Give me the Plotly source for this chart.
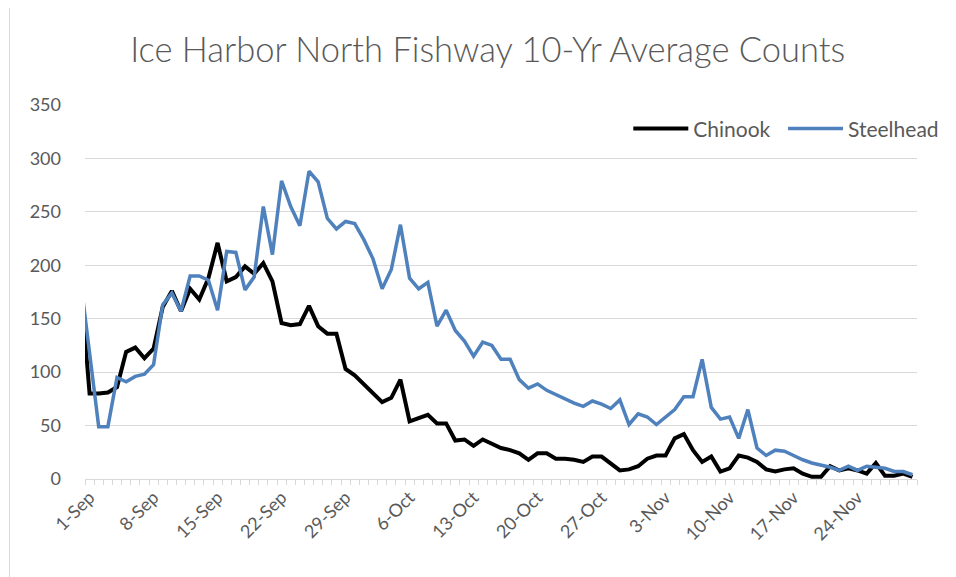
import plotly.graph_objects as go
import pandas as pd

# Daily categories (31-Aug point lies just outside the visible plot edge)
dates = pd.date_range("2021-08-31", "2021-11-30", freq="D")

chinook = [184, 80, 80, 81, 86, 119, 123, 113, 122, 161,
           176, 157, 178, 168, 188, 221, 185, 189, 199, 192,
           202, 185, 146, 144, 145, 162, 143, 136, 136, 103,
           97, 89, 80, 72, 76, 93, 54, 57, 60, 52,
           52, 36, 37, 31, 37, 33, 29, 27, 24, 18,
           24, 24, 19, 19, 18, 16, 21, 21, 15, 8,
           9, 12, 19, 22, 22, 38, 42, 27, 16, 21,
           7, 10, 22, 20, 16, 9, 7, 9, 10, 5,
           2, 2, 12, 8, 10, 8, 5, 15, 3, 3,
           5, 2]

steelhead = [187, 115, 49, 49, 95, 91, 96, 98, 107, 163,
             174, 157, 190, 190, 186, 158, 213, 212, 177, 189,
             255, 210, 279, 255, 237, 288, 278, 244, 234, 241,
             239, 224, 206, 178, 196, 238, 188, 178, 184, 143,
             158, 139, 129, 115, 128, 125, 112, 112, 93, 85,
             89, 83, 79, 75, 71, 68, 73, 70, 66, 74,
             51, 61, 58, 51, 58, 65, 77, 77, 112, 67,
             56, 58, 38, 65, 29, 22, 27, 26, 22, 18,
             15, 13, 11, 8, 12, 8, 12, 11, 10, 7,
             7, 4]

tick_labels = ["1-Sep", "8-Sep", "15-Sep", "22-Sep", "29-Sep", "6-Oct", "13-Oct",
               "20-Oct", "27-Oct", "3-Nov", "10-Nov", "17-Nov", "24-Nov"]
tick_dates = pd.date_range("2021-09-01", periods=len(tick_labels), freq="7D")

# slot boundaries (tick marks between categories)
boundaries = pd.date_range("2021-08-31 12:00", "2021-11-30 12:00", freq="D")

GRAY = "#595959"
GRID = "#d9d9d9"
FONT = "Lato"

W, H = 948, 569
L, T, PW, PH = 77, 97, 837.7, 374

fig = go.Figure()
fig.add_trace(go.Scatter(x=dates, y=chinook, mode="lines", name="Chinook",
                         line=dict(color="#000000", width=4), legend="legend"))
fig.add_trace(go.Scatter(x=dates, y=steelhead, mode="lines", name="Steelhead",
                         line=dict(color="#4f81bd", width=3.5), legend="legend2"))

legend_common = dict(orientation="h", xanchor="left", yanchor="middle",
                     font=dict(family=FONT, size=21, color=GRAY),
                     itemwidth=55, bgcolor="rgba(0,0,0,0)")

fig.update_layout(
    width=W, height=H,
    margin=dict(l=L, r=W - L - PW, t=T, b=H - T - PH),
    paper_bgcolor="white", plot_bgcolor="white",
    font=dict(family=FONT, color=GRAY, size=18),
    title=dict(text="Ice Harbor North Fishway 10-Yr Average Counts",
               x=0.506, xanchor="center", y=0.926, yanchor="middle",
               font=dict(family=FONT, size=34.5, color=GRAY, weight=300)),
    showlegend=True,
    legend=dict(x=0.653, y=0.936, **legend_common),
    legend2=dict(x=0.839, y=0.936, **legend_common),
    xaxis=dict(
        type="date",
        range=[boundaries[0], boundaries[-1]],
        tickmode="array", tickvals=tick_dates, ticktext=tick_labels,
        tickangle=-45, ticks="", showgrid=False,
        showline=True, linecolor=GRID, linewidth=1,
        tickfont=dict(family=FONT, size=18, color=GRAY),
        minor=dict(ticks="outside", ticklen=5, tickwidth=1, tickcolor=GRID,
                   tickmode="array", tickvals=boundaries, showgrid=False),
        fixedrange=True,
    ),
    yaxis=dict(
        range=[0, 350], tick0=0, dtick=50,
        showgrid=True, gridcolor=GRID, gridwidth=1,
        zeroline=False, showline=False, ticks="",
        ticklabelstandoff=23,
        tickfont=dict(family=FONT, size=18, color=GRAY),
        fixedrange=True,
    ),
    shapes=[dict(type="line", xref="paper", yref="paper",
                 x0=(1 - L) / PW, x1=(1 - L) / PW,
                 y0=-0.3, y1=1.3, line=dict(color=GRID, width=1))],
)

fig.write_html("out.html")
